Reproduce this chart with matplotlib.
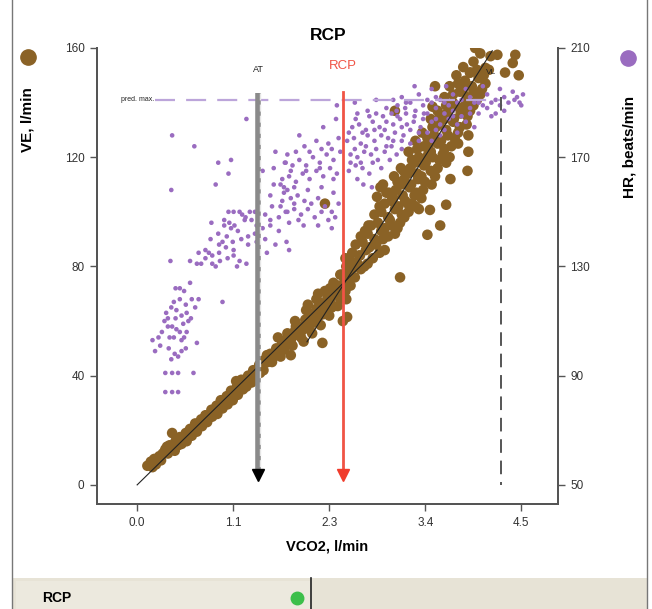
import matplotlib
matplotlib.use("Agg")
import matplotlib.pyplot as plt
from matplotlib.lines import Line2D
from matplotlib.patches import Rectangle

plt.rcParams['font.family'] = ['Liberation Sans', 'DejaVu Sans']

# VE (l/min) against VCO2 (l/min) - brown points
ve_vco2 = [0.12, 0.16, 0.20, 0.22, 0.26, 0.30, 0.33, 0.36, 0.38, 0.42, 0.41, 0.45, 0.48, 0.50, 0.54,
           0.57, 0.60, 0.62, 0.66, 0.68, 0.72, 0.75, 0.78, 0.80, 0.84, 0.87, 0.90, 0.93, 0.96, 0.98,
           1.02, 1.05, 1.08, 1.10, 1.14, 1.16, 1.17, 1.20, 1.22, 1.26, 1.30, 1.33, 1.36, 1.40, 1.43,
           1.46, 1.50, 1.53, 1.56, 1.60, 1.63, 1.65, 1.67, 1.70, 1.74, 1.77, 1.80, 1.80, 1.84, 1.87,
           1.90, 1.93, 1.95, 1.97, 1.98, 2.00, 2.04, 2.05, 2.07, 2.10, 2.10, 2.13, 2.15, 2.16, 2.17,
           2.20, 2.20, 2.23, 2.25, 2.26, 2.30, 2.30, 2.33, 2.35, 2.36, 2.40, 2.41, 2.43, 2.45, 2.46,
           2.46,
           0.18, 0.28, 0.35, 0.44, 0.52, 0.58, 0.64, 0.70, 0.76, 0.82, 0.88, 0.94, 1.00, 1.06, 1.12,
           1.18, 1.24, 1.28, 1.34, 1.38, 1.44, 1.48, 1.52, 1.58, 1.62, 1.68, 1.72, 1.76, 1.82, 1.86,
           1.92, 2.02, 2.08, 2.12, 2.18, 2.28, 2.38, 2.44, 2.50, 1.85, 2.00, 2.12, 2.26, 2.38,
           2.40, 2.48, 2.55, 2.62, 2.50, 2.58, 2.66, 2.45,
           2.52, 2.60, 2.68, 2.76, 2.84, 2.56, 2.64, 2.72, 2.80, 2.90,
           2.62, 2.70, 2.78, 2.86, 2.94, 3.02, 2.74, 2.82, 2.90, 2.98, 3.08,
           2.78, 2.86, 2.94, 3.02, 3.10, 3.18, 3.26, 2.90, 2.98, 3.06, 3.14, 3.22, 3.30,
           2.95, 3.03, 3.11, 3.19, 3.27, 3.35, 3.05, 3.13, 3.21, 3.29, 3.37, 3.45,
           3.12, 3.20, 3.28, 3.36, 3.44, 3.52, 3.22, 3.30, 3.38, 3.46, 3.54, 3.62,
           3.28, 3.36, 3.44, 3.52, 3.60, 3.68, 3.40, 3.48, 3.56, 3.64, 3.72,
           3.46, 3.54, 3.62, 3.70, 3.78, 3.86, 3.55, 3.63, 3.71, 3.79, 3.87,
           3.62, 3.70, 3.78, 3.86, 3.94, 3.70, 3.78, 3.86, 3.94, 4.02,
           3.76, 3.84, 3.92, 4.00, 4.08, 3.90, 3.98, 4.06,
           2.44, 2.53, 2.61, 2.70, 2.79, 2.67, 2.88, 2.96, 3.05, 3.13, 2.84, 2.92, 3.00, 3.09, 3.17,
           3.25, 3.33, 3.01, 3.09, 3.17, 3.25, 3.33, 3.41, 3.49, 3.18, 3.26, 3.34, 3.42, 3.50, 3.58,
           3.66, 3.76, 3.44, 3.52, 3.60, 3.68, 3.76, 3.84, 3.60, 3.66, 3.74, 3.82, 3.90, 3.98, 3.82,
           3.94, 4.04, 4.12, 3.96, 4.14,
           4.02, 4.22, 4.43, 4.40, 4.47, 4.31, 3.90, 4.08, 3.49, 3.46, 3.02, 3.88, 3.88, 3.87, 3.67,
           3.62, 3.55, 3.43, 3.40, 3.08, 2.85, 2.81, 2.20, 2.71, 2.88]
ve_values = [7, 8.5, 9.5, 7.5, 10.5, 11.5, 13, 11.5, 14.5, 13.5, 19, 16, 14.5, 17.5, 16.5,
             19, 18, 20.5, 19.5, 22.5, 21.5, 24, 23, 25.5, 24.5, 27.5, 26.5, 29, 28, 31,
             30, 32.5, 31.5, 34.5, 33.5, 38, 36, 35.5, 38.5, 37.5, 40, 39, 42, 41, 44,
             43, 46, 45, 48, 47, 50, 54, 49, 52, 51, 54, 53, 47.5, 56, 55,
             58, 56.5, 52.5, 60.5, 64, 59, 62.5, 55.5, 61, 64.5, 68, 63, 58.5, 66.5, 52,
             65, 71, 68.5, 62, 67, 70.5, 74, 69.5, 65.5, 73, 71.5, 60, 75.5, 68, 61.5,
             74,
             6.5, 9, 14, 12.5, 15, 16, 18, 19.5, 21.5, 23, 25, 26, 28, 29.5, 31,
             33, 35, 36, 37.5, 39, 41, 42, 47.5, 45, 48.5, 47, 49.5, 55.5, 51, 58,
             54, 57, 59.5, 61.5, 62.5, 65, 68, 71, 73, 60, 66, 70, 72, 77,
             77, 78, 76, 79, 82, 81, 80, 80,
             85, 84, 86, 83, 85, 88, 89, 87, 88, 86,
             91, 92, 90, 93, 91, 92, 95, 96, 94, 95, 96,
             99, 100, 98, 101, 99, 100, 102, 103, 104, 102, 104, 103, 101,
             107, 108, 106, 109, 107, 108, 111, 112, 110, 112, 111, 110,
             115, 116, 114, 117, 115, 116, 119, 120, 118, 120, 119, 118,
             123, 124, 122, 125, 123, 124, 127, 128, 126, 128, 127,
             131, 132, 130, 133, 131, 132, 135, 136, 134, 136, 135,
             139, 140, 138, 141, 139, 143, 144, 142, 144, 143,
             147, 148, 146, 149, 147, 151, 152, 150,
             83, 79.5, 84, 81, 89, 93, 90, 97, 94, 98, 102, 107, 105, 110, 103,
             106, 105, 113, 116, 114, 118, 113, 121, 113, 122, 126, 129, 125, 131, 121,
             120, 125, 134, 137, 134, 138, 129, 139, 142, 146, 150, 145, 137, 141, 153,
             155, 145, 152, 160, 157,
             158, 157.5, 157.5, 154.5, 150, 151, 151, 152.7, 146, 138.5, 137, 128, 122, 115, 112,
             102.6, 95, 100.7, 91.6, 76, 109, 105.5, 103, 95, 110]

# HR (beats/min) against VCO2 (l/min) - purple points
hr_vco2 = [0.33, 0.41, 0.48, 0.33, 0.41, 0.48, 0.66,
           0.21, 0.27, 0.37, 0.44, 0.48, 0.52, 0.57, 0.43,
           0.18, 0.29, 0.36, 0.41, 0.46, 0.50, 0.54, 0.60, 0.70,
           0.34, 0.40, 0.46, 0.52, 0.58, 0.63, 0.43, 0.50, 0.57, 0.68, 0.36,
           0.72, 1.00, 0.45, 0.55, 0.62,
           0.39, 0.62, 0.70, 0.80, 0.88, 0.97, 1.06, 1.13, 1.20, 1.28, 1.17,
           0.72, 0.80, 0.88, 0.96, 1.04, 1.13,
           0.86, 0.95, 1.05, 1.12, 1.22, 1.30, 1.38, 1.30, 1.40,
           0.87, 1.02, 1.08, 1.14,
           1.07, 1.13, 1.23, 1.27, 1.32, 1.38,
           0.92, 1.07, 0.95, 1.10, 0.40, 0.41, 0.67, 1.28,
           0.25, 0.32, 0.38, 0.45, 0.52, 0.58, 0.64, 0.50, 0.75, 0.84, 0.92, 1.00, 1.10, 1.18, 1.26,
           1.34, 1.40, 1.02, 0.96, 1.20, 0.55, 0.40,
           1.47, 1.60, 1.73, 1.68, 1.76, 1.56, 1.58, 1.70,
           1.50, 1.56, 1.66, 1.74, 1.84,
           1.47, 1.56, 1.66, 1.78, 1.89,
           1.50, 1.62, 1.75, 1.52, 1.78,
           1.72, 1.80, 1.88, 1.96, 2.04, 2.12, 2.20, 2.28, 2.36, 1.76, 1.92, 2.08, 2.24,
           1.70, 1.78, 1.86, 1.94, 2.02, 2.10, 2.18, 2.26, 2.34,
           1.74, 1.82, 1.90, 1.98, 2.06, 2.14, 2.22, 2.30, 2.38,
           1.76, 1.96, 2.10, 2.24, 2.36, 2.18, 2.33, 2.34, 1.90,
           1.72, 1.84, 2.00, 2.16, 2.30, 1.80, 1.98, 2.14, 2.30, 1.86, 2.02, 2.16, 2.28, 1.68, 1.84,
           2.00, 2.16, 2.32, 1.95, 2.12, 2.28, 1.62, 1.60,
           2.48, 2.56, 2.64, 2.72, 2.50, 2.58, 2.66, 2.74, 2.82, 2.90,
           2.46, 2.54, 2.62, 2.70, 2.78, 2.86, 2.94, 3.02, 3.10,
           2.52, 2.60, 2.68, 2.76, 2.84, 2.92, 3.00, 3.08, 3.16, 3.24, 3.32,
           2.58, 2.70, 2.80, 2.92, 3.04, 3.14, 3.26, 3.36,
           2.50, 2.62, 2.76, 2.86, 2.96, 3.04, 2.55, 2.68, 2.80, 2.92, 2.48, 2.64, 2.78, 2.90, 3.00,
           2.56, 2.72, 2.88, 2.98, 3.12, 2.55, 2.80, 2.65, 2.75, 2.58,
           3.00, 3.10, 3.20, 3.30, 3.40, 3.50, 3.60, 3.70, 3.80, 3.90, 4.00, 4.10, 4.20, 4.30, 4.42, 4.48,
           3.25, 3.45, 3.62, 3.85, 4.05, 4.25, 4.40,
           3.40, 3.50, 3.60, 3.70, 3.80, 3.90, 4.00, 4.10, 4.20,
           3.45, 3.55, 3.65, 3.75, 3.85, 3.95, 3.40, 3.55,
           3.05, 3.15, 3.35, 3.45, 3.55, 3.65, 3.75, 3.95, 4.05, 4.15, 4.25, 4.35, 4.45, 4.52, 4.50,
           3.05, 3.15, 3.25, 3.35, 3.50, 3.70, 3.90, 4.15, 4.30, 3.10, 3.20, 3.30, 3.50, 3.60, 3.75,
           2.98, 3.10, 3.20, 3.30, 3.45]
hr_values = [84, 84, 84, 91, 91, 91, 91,
             99, 101, 100, 98, 97, 99, 100, 104,
             103, 106, 108, 108, 107, 106, 109, 110, 102,
             113, 115, 114, 112, 113, 111, 117, 118, 116, 115, 111,
             118, 117, 122, 121, 124,
             132, 132, 131, 133, 131, 132, 133, 134, 132, 131, 130,
             135, 136, 134, 135, 137, 136,
             140, 142, 141, 139, 140, 141, 142, 138, 139,
             146, 147, 146, 145,
             150, 150, 149, 148, 150, 150,
             160, 164, 168, 169, 158, 178, 174, 184,
             104, 110, 104, 111, 103, 106, 118, 122, 131, 135, 130, 139, 144, 143, 147,
             147, 145, 145, 138, 150, 104, 96,
             165, 166, 168, 160, 158, 156, 152, 154,
             149, 147, 148, 150, 151,
             144, 145, 143, 146, 147,
             140, 138, 139, 135, 136,
             157, 155, 156, 154, 153, 155, 152, 150, 153, 150, 149, 148, 147,
             162, 163, 161, 164, 162, 165, 163, 166, 164,
             168, 167, 169, 167, 170, 168, 171, 169, 172,
             171, 174, 176, 175, 177, 181, 184, 189, 178,
             159, 159, 158, 159, 157, 165, 165, 166, 162, 172, 172, 173, 173, 152, 153,
             151, 150, 148, 145, 145, 144, 172, 160,
             165, 167, 166, 164, 171, 170, 172, 171, 169, 172,
             176, 177, 175, 178, 176, 178, 177, 179, 176,
             181, 182, 180, 183, 181, 183, 182, 184, 182, 183, 181,
             186, 187, 186, 188, 187, 188, 187, 186,
             168, 168, 168, 166, 169, 171, 173, 174, 173, 174, 179, 179, 180, 180, 176,
             184, 185, 185, 186, 178, 190, 191, 160, 159, 162,
             191, 192, 190, 193, 191, 192, 190, 193, 191, 192, 190, 193, 191, 192, 191, 190,
             196, 195, 196, 195, 196, 195, 194,
             186, 188, 186, 187, 185, 188, 186, 188, 186,
             183, 182, 184, 182, 183, 181, 179, 178,
             189, 190, 189, 190, 191, 189, 190, 190, 189, 190, 189, 190, 192, 193, 189,
             185, 186, 185, 184, 184, 185, 186, 185, 187, 181, 180, 179, 180, 180, 179,
             174, 173, 175, 176, 176]

# regression segments (VCO2, VE)
fit1_x = [0.0, 2.81]
fit1_y = [0.0, 86.0]
fit2_x = [1.99, 4.16]
fit2_y = [52.4, 159.0]

# event markers
AT_VCO2 = 1.42
RCP_VCO2 = 2.415
VL_VCO2 = 4.26
HR_PRED_MAX = 191

x_ticks = [0.0, 1.125, 2.25, 3.375, 4.5]
x_tick_labels = ['0.0', '1.1', '2.3', '3.4', '4.5']
ve_ticks = [0, 40, 80, 120, 160]
hr_ticks = [50, 90, 130, 170, 210]

BROWN = '#8a6226'
PURPLE = '#9a6cc0'
SPINE = '#555555'

fig = plt.figure(figsize=(6.52, 6.09), dpi=100)
ax = fig.add_axes([0.1488, 0.1724, 0.707, 0.7488])
ax2 = ax.twinx()

ax.set_xlim(-0.47, 4.93)
ax.set_ylim(-7, 160)
ax2.set_ylim(43, 210)

ax.scatter(ve_vco2, ve_values, s=58, color=BROWN, edgecolors='none', zorder=2)
ax2.scatter(hr_vco2, hr_values, s=11, color=PURPLE, edgecolors='none', zorder=2)

# regression lines (in VE units, drawn above purple)
ax2.plot(fit1_x, fit1_y, color='#222222', lw=0.8, transform=ax.transData, zorder=4)
ax2.plot(fit2_x, fit2_y, color='#222222', lw=0.8, transform=ax.transData, zorder=4)

# predicted max HR
ax2.plot([0.21, VL_VCO2], [HR_PRED_MAX, HR_PRED_MAX], color='#bca5da', lw=1.6,
         dashes=(9, 5), zorder=3)
ax2.text(0.20, HR_PRED_MAX, 'pred. max.', fontsize=5, ha='right', va='center', color='#222222')

# AT marker
ax2.plot([AT_VCO2, AT_VCO2], [143.5, 5], color='#8a8a8a', lw=4, transform=ax.transData,
         zorder=5, solid_capstyle='butt')
ax2.plot([AT_VCO2 + 0.018, AT_VCO2 + 0.018], [143.5, 5], color='#e6e6e6', lw=1.0,
         dashes=(5, 3), transform=ax.transData, zorder=6)
ax2.plot([AT_VCO2], [3.5], marker='v', ms=9, color='black', transform=ax.transData, zorder=6)
ax2.text(AT_VCO2, 152, 'AT', fontsize=6.5, ha='center', va='center', color='#222222',
         transform=ax.transData)

# RCP marker
ax2.plot([RCP_VCO2, RCP_VCO2], [144, 5], color='#f05445', lw=2, transform=ax.transData, zorder=5)
ax2.plot([RCP_VCO2], [3.5], marker='v', ms=9, color='#f03c2c', transform=ax.transData, zorder=6)
ax2.text(RCP_VCO2, 153.5, 'RCP', fontsize=9.5, ha='center', va='center', color='#f05445',
         transform=ax.transData)

# VL marker
ax2.plot([VL_VCO2, VL_VCO2], [142, 0], color='#555555', lw=1.4, dashes=(7, 4),
         transform=ax.transData, zorder=5)
ax2.text(4.15, 151, 'VL', fontsize=6, ha='center', va='center', color='#222222',
         transform=ax.transData)

# axes styling
for a in (ax, ax2):
    a.spines['top'].set_visible(False)
    for s in ('left', 'right', 'bottom'):
        a.spines[s].set_color(SPINE)
        a.spines[s].set_linewidth(1.4)
ax.set_xticks(x_ticks)
ax.set_xticklabels(x_tick_labels)
ax.set_yticks(ve_ticks)
ax2.set_yticks(hr_ticks)
ax.tick_params(axis='both', direction='out', length=5, width=1, color=SPINE,
               labelsize=8.5, labelcolor='#333333', pad=4)
ax2.tick_params(axis='y', direction='out', length=5, width=1, color=SPINE,
                labelsize=8.5, labelcolor='#333333', pad=4)

ax.set_xlabel('VCO2, l/min', fontsize=10.5, fontweight='bold', labelpad=8)

fig.text(0.503, 0.9425, 'RCP', fontsize=12.5, fontweight='bold', ha='center', va='center')
fig.text(28 / 652, 1 - 120 / 609, 'VE, l/min', fontsize=11, fontweight='bold',
         rotation=90, ha='center', va='center')
fig.text(630 / 652, 1 - 147 / 609, 'HR, beats/min', fontsize=11, fontweight='bold',
         rotation=90, ha='center', va='center')
fig.add_artist(Line2D([28 / 652], [1 - 57 / 609], marker='o', ms=11, color=BROWN,
                      transform=fig.transFigure))
fig.add_artist(Line2D([628 / 652], [1 - 58 / 609], marker='o', ms=11, color='#9a6cc0',
                      transform=fig.transFigure))

# bottom status bar
fig.add_artist(Rectangle((12 / 652, 0), 636 / 652, 31 / 609, transform=fig.transFigure,
                         facecolor='#e7e3d6', edgecolor='none'))
fig.add_artist(Rectangle((16 / 652, 0), 294 / 652, 28 / 609, transform=fig.transFigure,
                         facecolor='#ece9de', edgecolor='none'))
fig.text(42 / 652, 1 - 598 / 609, 'RCP', fontsize=10, fontweight='bold', ha='left', va='center')
fig.add_artist(Line2D([297 / 652], [1 - 598 / 609], marker='o', ms=9, color='#3cbf4a',
                      transform=fig.transFigure))
fig.add_artist(Line2D([311 / 652, 311 / 652], [0, 31 / 609], color='#222222', lw=1.2,
                      transform=fig.transFigure))

# outer frame lines
fig.add_artist(Line2D([12 / 652, 12 / 652], [0, 1], color='#777777', lw=1,
                      transform=fig.transFigure))
fig.add_artist(Line2D([647 / 652, 647 / 652], [0, 1], color='#777777', lw=1,
                      transform=fig.transFigure))

fig.savefig('out.png', dpi=100)
